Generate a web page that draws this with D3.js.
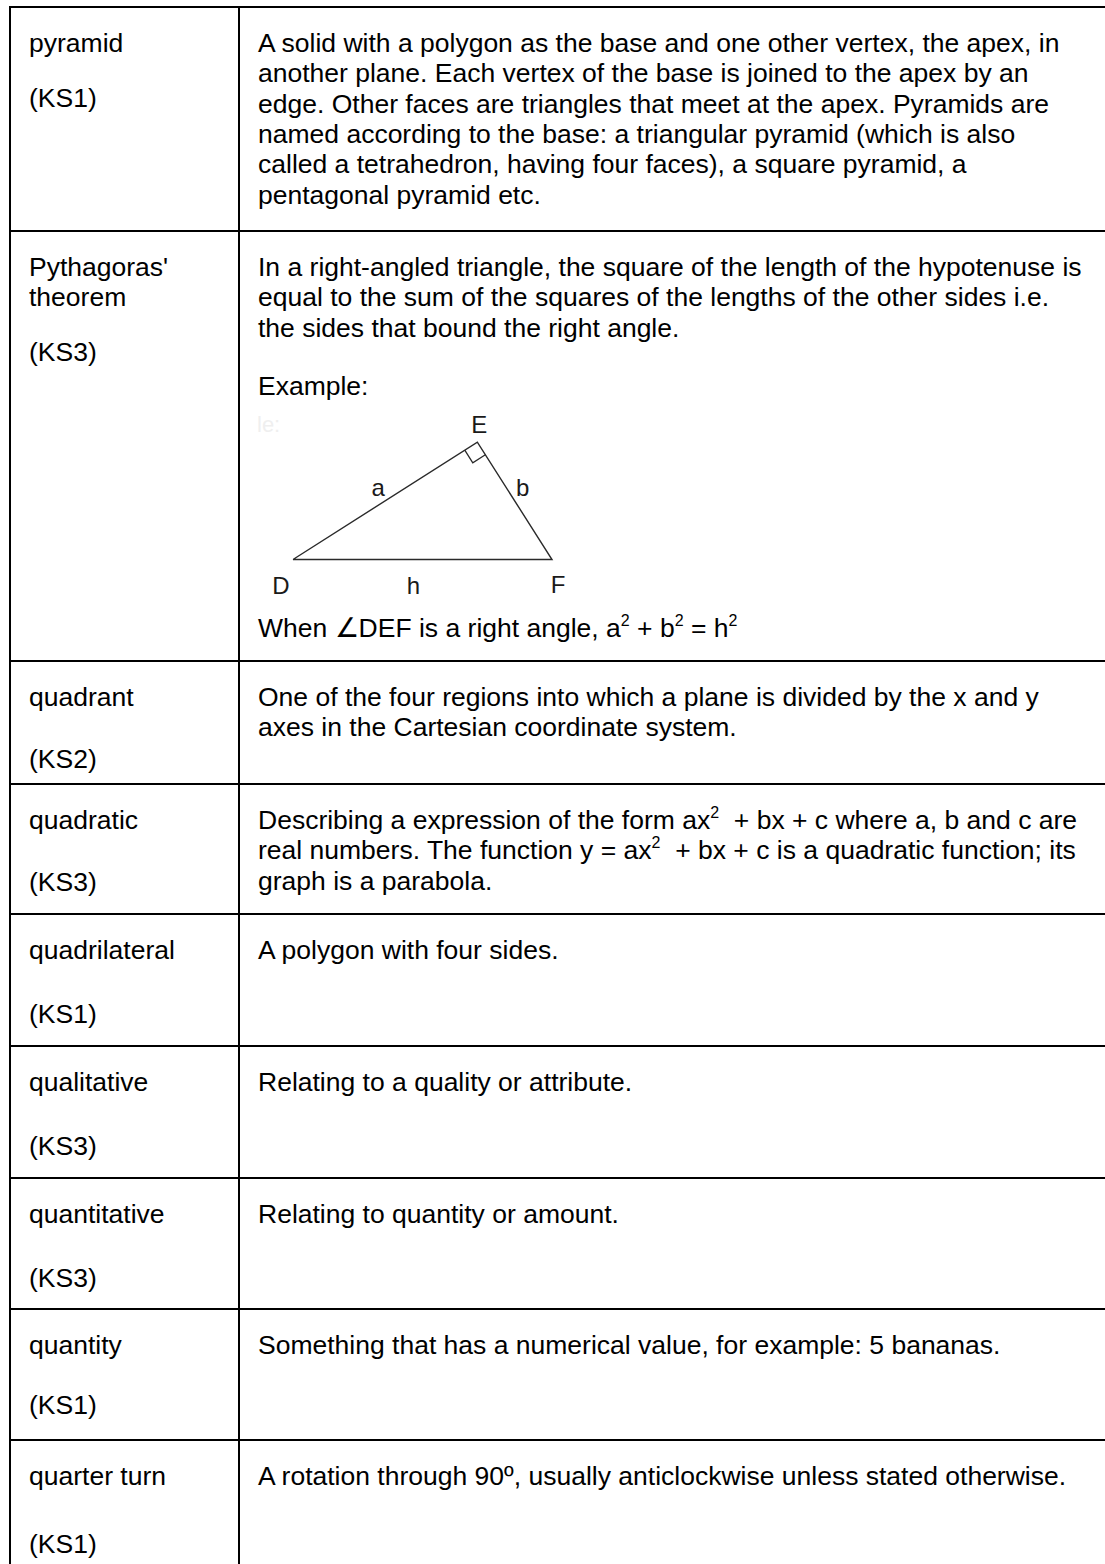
<!DOCTYPE html>
<html>
<head>
<meta charset="utf-8">
<script src="https://cdn.jsdelivr.net/npm/d3@7"></script>
<style>
  body { margin: 0; background: #fff; }
  text { font-family: "Liberation Sans", Arial, sans-serif; white-space: pre; }
</style>
</head>
<body>
<svg id="chart"></svg>
<script>
// glossary rows: term (may wrap), key stage, definition lines
var terms = [
  ["pyramid"],
  ["Pythagoras'", "theorem"],
  ["quadrant"],
  ["quadratic"],
  ["quadrilateral"],
  ["qualitative"],
  ["quantitative"],
  ["quantity"],
  ["quarter turn"]
];
var stages = ["(KS1)", "(KS3)", "(KS2)", "(KS3)", "(KS1)", "(KS3)", "(KS3)", "(KS1)", "(KS1)"];
var definitions = [
  ["A solid with a polygon as the base and one other vertex, the apex, in",
   "another plane. Each vertex of the base is joined to the apex by an",
   "edge. Other faces are triangles that meet at the apex. Pyramids are",
   "named according to the base: a triangular pyramid (which is also",
   "called a tetrahedron, having four faces), a square pyramid, a",
   "pentagonal pyramid etc."],
  ["In a right-angled triangle, the square of the length of the hypotenuse is",
   "equal to the sum of the squares of the lengths of the other sides i.e.",
   "the sides that bound the right angle."],
  ["One of the four regions into which a plane is divided by the x and y",
   "axes in the Cartesian coordinate system."],
  ["Describing a expression of the form ax^2  + bx + c where a, b and c are",
   "real numbers. The function y = ax^2  + bx + c is a quadratic function; its",
   "graph is a parabola."],
  ["A polygon with four sides."],
  ["Relating to a quality or attribute."],
  ["Relating to quantity or amount."],
  ["Something that has a numerical value, for example: 5 bananas."],
  ["A rotation through 90\u00BA, usually anticlockwise unless stated otherwise."]
];
// Pythagoras example (legs a and b, in arbitrary units)
var exampleTitle = "Example:";
var exampleNote = "When \u2220DEF is a right angle, a^2 + b^2 = h^2";
var triangleLegs = [11, 7];

// layout
var width = 1105, height = 1564,
    fontSize = 26.5, lineH = 30.3,
    borderX = 10, colX = 239, termX = 29, defX = 258,
    tableTop = 7, firstBase = 45,
    rowHeights = [224, 430, 123, 130, 132, 132, 131, 131, 200],
    stageGap = [55, 55, 62, 62, 64, 64, 64, 60, 68],
    supSize = 16, supRise = 11;

var rowTops = [tableTop].concat(Array.from(d3.cumsum(rowHeights)).map(function(d) { return tableTop + d; }));

var svg = d3.select('#chart')
    .attr('width', width)
    .attr('height', height)
    .style('display', 'block');

svg.append('rect').attr('width', width).attr('height', height).attr('fill', '#fff');

// writes a line with ^n superscripts
function richText(sel, str) {
  var parts = str.split(/\^(\d)/);
  parts.forEach(function(p, i) {
    if (i % 2 === 1) {
      sel.append('tspan').attr('dy', -supRise).attr('font-size', supSize).text(p);
    } else if (p) {
      sel.append('tspan').attr('dy', i ? supRise : 0).text(p);
    }
  });
}

var rows = svg.selectAll('g.row')
  .data(terms.map(function(t, i) { return {term: t, stage: stages[i], def: definitions[i], i: i}; }))
  .join('g')
    .attr('class', 'row')
    .attr('transform', function(d) { return 'translate(0,' + rowTops[d.i] + ')'; })
    .attr('font-size', fontSize)
    .attr('fill', '#000');

// term column + definition column
rows.each(function(d) {
  var g = d3.select(this);
  d.term.forEach(function(t, j) {
    g.append('text').attr('x', termX).attr('y', firstBase + j * lineH).text(t);
  });
  g.append('text')
    .attr('x', termX)
    .attr('y', firstBase + (d.term.length - 1) * lineH + stageGap[d.i])
    .text(d.stage);
  d.def.forEach(function(line, j) {
    var t = g.append('text').attr('x', defX).attr('y', firstBase + j * lineH);
    richText(t, line);
  });
});

// Pythagoras example diagram
var ex = svg.append('g').attr('transform', 'translate(0,' + rowTops[1] + ')').attr('font-size', fontSize);
ex.append('text').attr('x', defX).attr('y', 164).text(exampleTitle);
ex.append('text').attr('x', defX - 1).attr('y', 201).attr('fill', '#efefef').attr('font-size', 22).text('le:');

var la = triangleLegs[0], lb = triangleLegs[1],
    hyp = Math.sqrt(la * la + lb * lb),
    foot = la * la / hyp,
    alt = la * lb / hyp;

var tx = d3.scaleLinear().domain([0, hyp]).range([defX + 35, defX + 294]);
var k = (tx(hyp) - tx(0)) / hyp;
var ty = d3.scaleLinear().domain([0, alt]).range([328.5, 328.5 - k * alt]);

var D = [tx(0), ty(0)], F = [tx(hyp), ty(0)], E = [tx(foot), ty(alt)];

ex.append('path')
  .attr('d', d3.line()([D, E, F, D]))
  .attr('fill', 'none')
  .attr('stroke', '#2a2a2a')
  .attr('stroke-width', 1.4)
  .attr('stroke-linejoin', 'miter');

// right-angle marker at E
var s = 0.75 * k;
function unit(p, q) { var dx = q[0] - p[0], dy = q[1] - p[1], l = Math.hypot(dx, dy); return [dx / l, dy / l]; }
var uD = unit(E, D), uF = unit(E, F);
var m1 = [E[0] + s * uD[0], E[1] + s * uD[1]],
    m2 = [E[0] + s * (uD[0] + uF[0]), E[1] + s * (uD[1] + uF[1])],
    m3 = [E[0] + s * uF[0], E[1] + s * uF[1]];
ex.append('path')
  .attr('d', d3.line()([m1, m2, m3]))
  .attr('fill', 'none')
  .attr('stroke', '#2a2a2a')
  .attr('stroke-width', 1.3);

var labels = [
  {t: 'E', x: E[0] + 2, y: E[1] - 9},
  {t: 'D', x: D[0] - 12, y: D[1] + 34},
  {t: 'F', x: F[0] + 6, y: F[1] + 33},
  {t: 'h', x: (D[0] + F[0]) / 2 - 9, y: D[1] + 34},
  {t: 'a', x: (D[0] + E[0]) / 2 - 7, y: (D[1] + E[1]) / 2 - 5},
  {t: 'b', x: (E[0] + F[0]) / 2 + 8, y: (E[1] + F[1]) / 2 - 5}
];
ex.selectAll('text.lbl')
  .data(labels)
  .join('text')
    .attr('class', 'lbl')
    .attr('x', function(d) { return d.x; })
    .attr('y', function(d) { return d.y; })
    .attr('text-anchor', 'middle')
    .attr('font-size', 24)
    .attr('fill', '#1a1a1a')
    .text(function(d) { return d.t; });

var note = ex.append('text').attr('x', defX).attr('y', 406);
richText(note, exampleNote);

// table rules
var grid = svg.append('g').attr('stroke', '#000').attr('stroke-width', 2);
grid.selectAll('line.h')
  .data(rowTops.slice(0, rowHeights.length))
  .join('line')
    .attr('class', 'h')
    .attr('x1', borderX - 1).attr('x2', width)
    .attr('y1', function(d) { return d; }).attr('y2', function(d) { return d; });
grid.selectAll('line.v')
  .data([borderX, colX])
  .join('line')
    .attr('class', 'v')
    .attr('x1', function(d) { return d; }).attr('x2', function(d) { return d; })
    .attr('y1', tableTop - 1).attr('y2', height);
</script>
</body>
</html>
